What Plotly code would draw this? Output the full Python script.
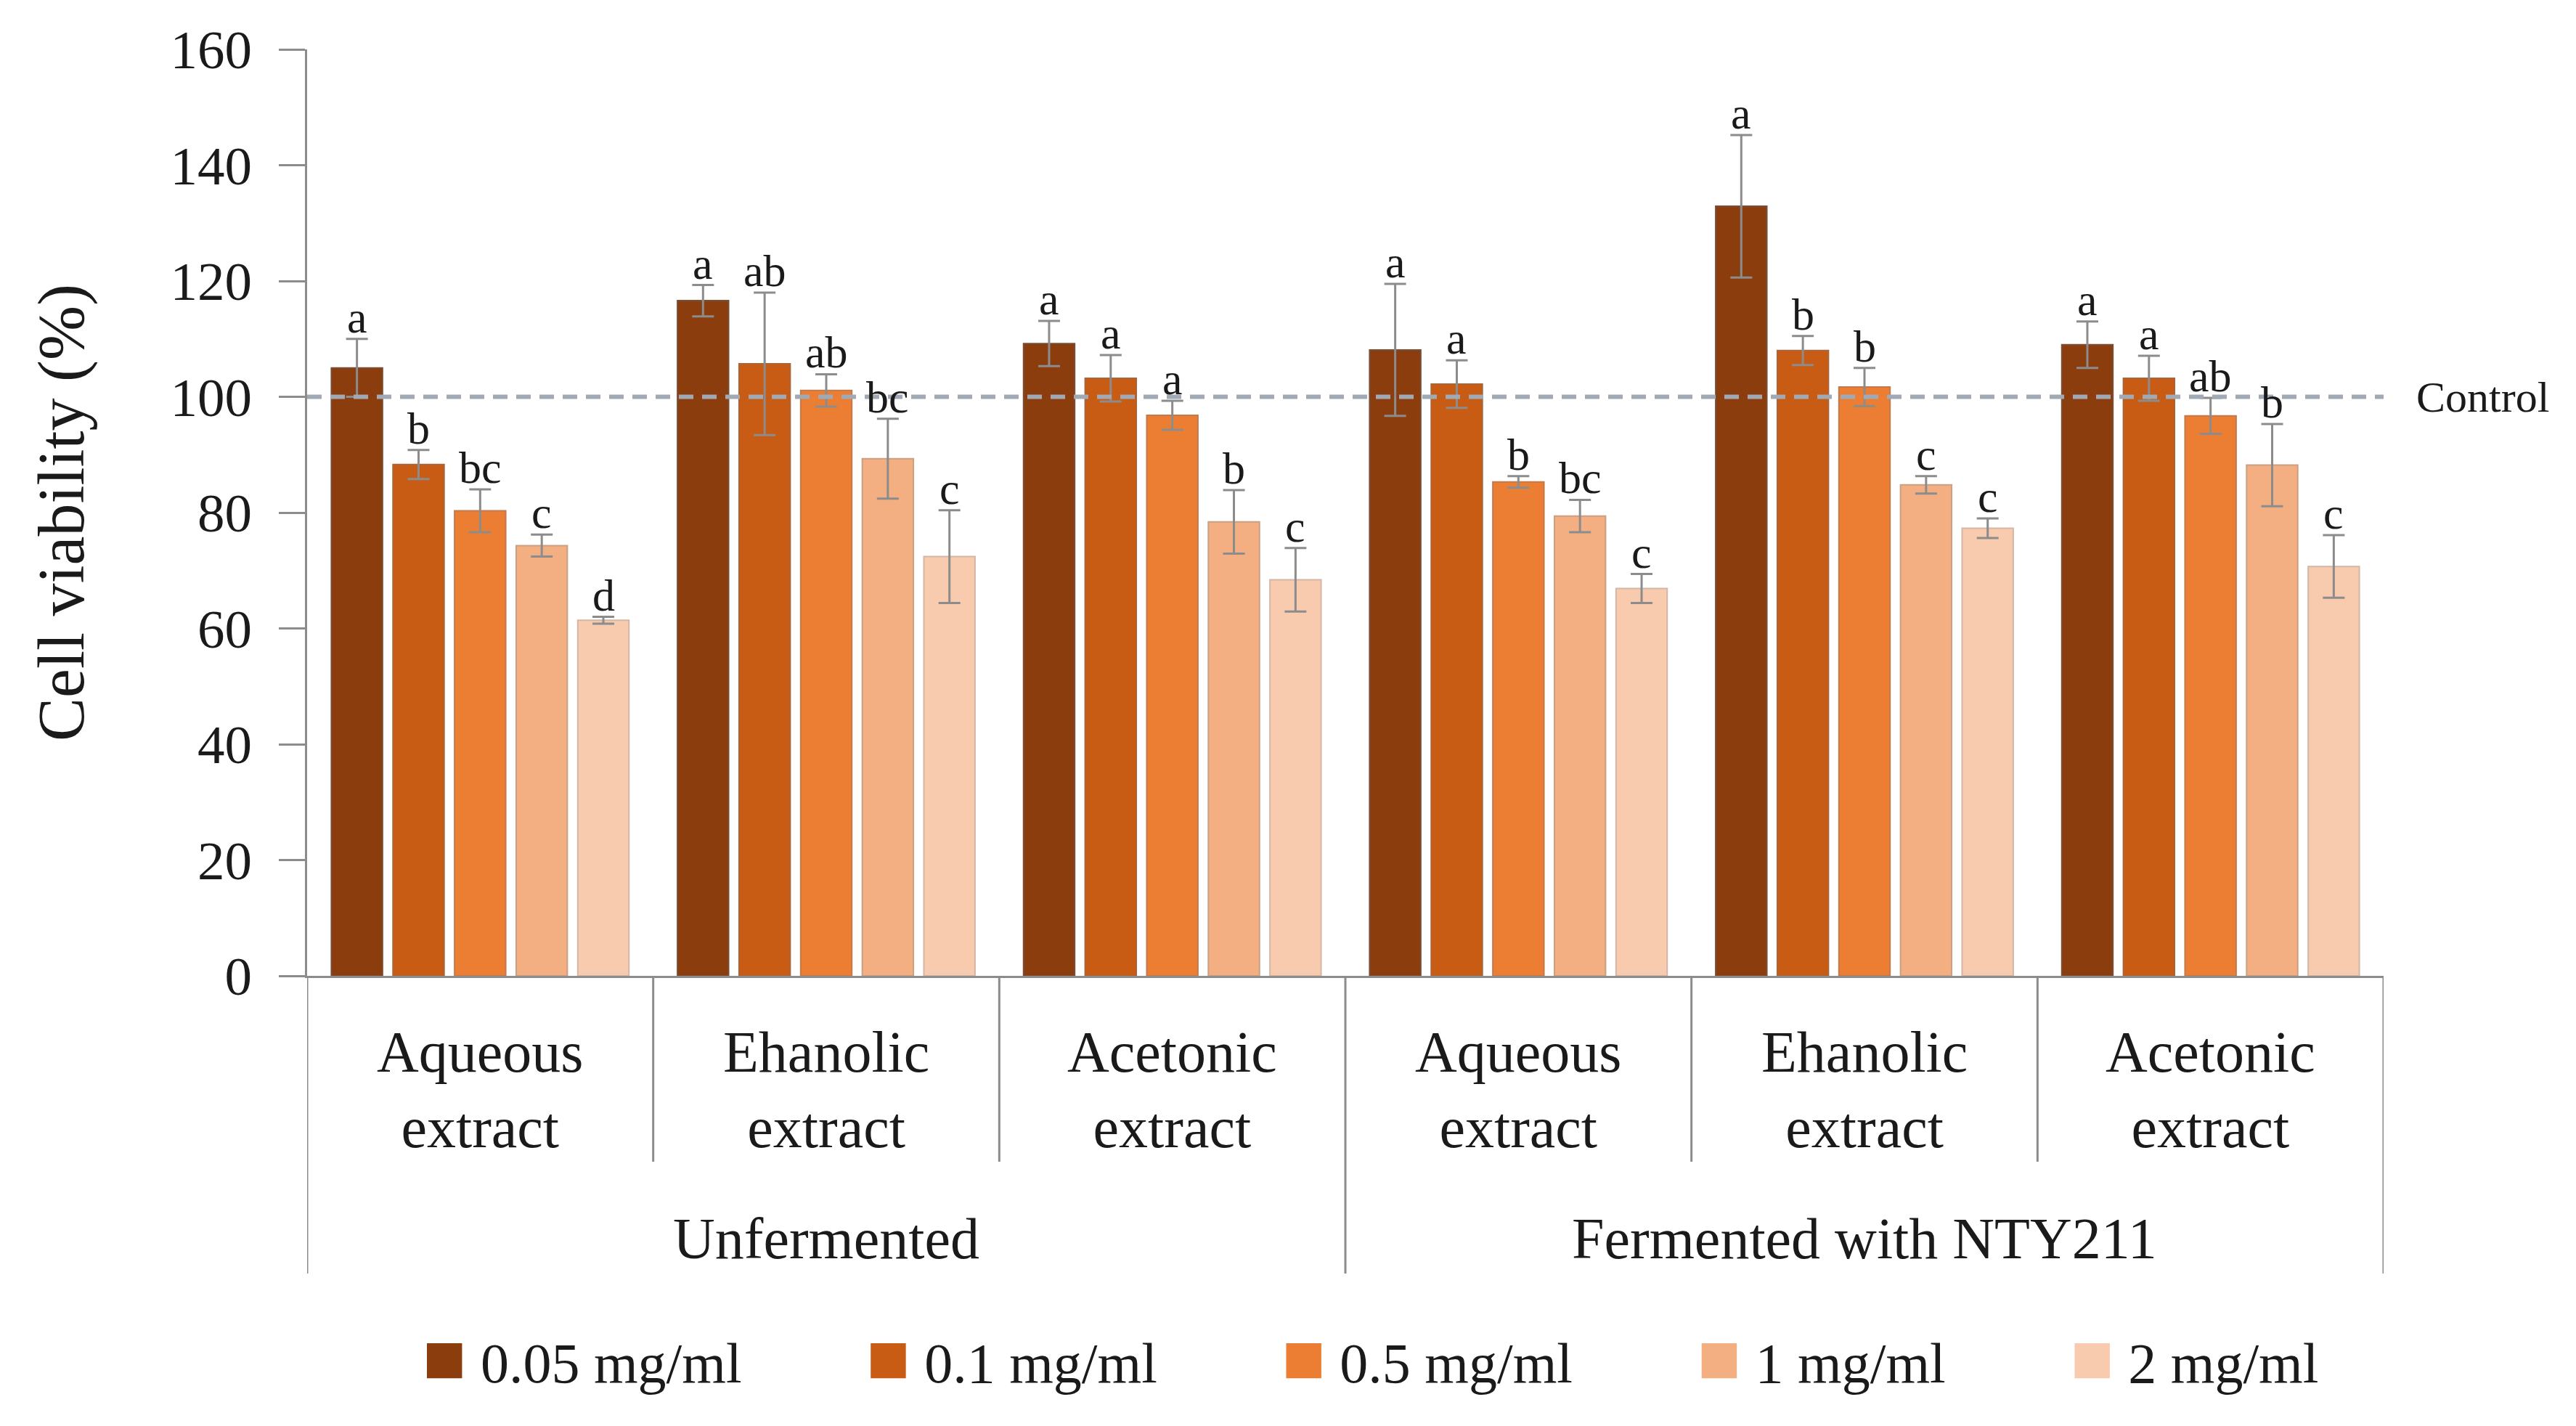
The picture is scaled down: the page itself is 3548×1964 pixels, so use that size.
import plotly.graph_objects as go

# ---------------- data ----------------
treatments = ["Unfermented", "Fermented with NTY211"]
extracts = ["Aqueous extract", "Ehanolic extract", "Acetonic extract"]
doses = ["0.05 mg/ml", "0.1 mg/ml", "0.5 mg/ml", "1 mg/ml", "2 mg/ml"]

v_005 = [105.0, 116.6, 109.2, 108.1, 132.9, 109.0]
v_01 = [88.3, 105.7, 103.2, 102.2, 108.0, 103.2]
v_05 = [80.3, 101.1, 96.8, 85.3, 101.7, 96.7]
v_1 = [74.3, 89.3, 78.4, 79.4, 84.8, 88.2]
v_2 = [61.4, 72.4, 68.4, 66.9, 77.3, 70.7]

e_005 = [5.0, 2.7, 3.9, 11.4, 12.3, 4.0]
e_01 = [2.5, 12.3, 4.0, 4.1, 2.5, 3.9]
e_05 = [3.7, 2.8, 2.5, 1.0, 3.3, 3.1]
e_1 = [1.9, 6.9, 5.5, 2.8, 1.5, 7.1]
e_2 = [0.6, 8.0, 5.5, 2.5, 1.7, 5.4]

l_005 = ["a", "a", "a", "a", "a", "a"]
l_01 = ["b", "ab", "a", "a", "b", "a"]
l_05 = ["bc", "ab", "a", "b", "b", "ab"]
l_1 = ["c", "bc", "b", "bc", "c", "b"]
l_2 = ["d", "c", "c", "c", "c", "c"]

control_value = 100
y_ticks = [0, 20, 40, 60, 80, 100, 120, 140, 160]

values = [v_005, v_01, v_05, v_1, v_2]
errors = [e_005, e_01, e_05, e_1, e_2]
letters = [l_005, l_01, l_05, l_1, l_2]

# ---------------- style ----------------
colors = ["#8B3D0E", "#C85C14", "#EC7E34", "#F3AF81", "#F8CAAE"]
edge_colors = ["#7A4E36", "#A8653A", "#C27A4C", "#C9A083", "#D4B6A6"]
FONT = "Liberation Serif"
W, H = 3532, 1948          # page body has an 8px margin
ML, MR, MT, MB = 415, 257, 60, 612
PH = H - MT - MB
AXIS_ROW = 8 + H - MB      # absolute pixel row of the x axis
BARGAP = 0.11
BARGROUPGAP = 0.17
axis_grey = "#8C8C8C"

def py(px_from_top):
    """convert an absolute pixel row to paper y coordinate"""
    return (AXIS_ROW - px_from_top) / PH

# category keys (one per extract/treatment combination)
keys = [f"{t} | {e}" for t in treatments for e in extracts]
ext_labels = [e for t in treatments for e in extracts]

fig = go.Figure()
for j, d in enumerate(doses):
    fig.add_trace(go.Bar(
        name=d, x=keys, y=values[j],
        marker=dict(color=colors[j], line=dict(color=edge_colors[j], width=2)),
        error_y=dict(type="data", array=errors[j], visible=True,
                     color=axis_grey, thickness=3, width=15),
        showlegend=False,
    ))

annotations = []
shapes = []

# significance letters
slot = (1 - BARGAP) / len(doses)
for j in range(len(doses)):
    off = (j - (len(doses) - 1) / 2) * slot
    for i in range(len(keys)):
        annotations.append(dict(
            x=i + off, y=values[j][i] + errors[j][i], xref="x", yref="y",
            text=letters[j][i], showarrow=False, yanchor="bottom",
            yshift=-6, font=dict(family=FONT, size=62, color="#1a1a1a")))

# inner category labels
for i, lab in enumerate(ext_labels):
    annotations.append(dict(
        x=i, y=py(1501), xref="x", yref="paper", yanchor="middle",
        text=lab.replace(" ", "<br>"), showarrow=False,
        font=dict(family=FONT, size=80, color="#1a1a1a")))

# outer category labels
n_ext = len(extracts)
for k, t in enumerate(treatments):
    annotations.append(dict(
        x=k * n_ext + (n_ext - 1) / 2, y=py(1706), xref="x", yref="paper",
        yanchor="middle", text=t, showarrow=False,
        font=dict(family=FONT, size=80, color="#1a1a1a")))

# dividers
for b in range(len(keys) + 1):
    outer = (b % n_ext == 0)
    shapes.append(dict(
        type="line", xref="x", yref="paper", x0=b - 0.5, x1=b - 0.5,
        y0=0, y1=py(1754) if outer else py(1600),
        line=dict(color=axis_grey, width=3)))

# control line
shapes.append(dict(
    type="line", xref="paper", yref="y", x0=0, x1=1,
    y0=control_value, y1=control_value,
    line=dict(color="#A0A9B4", width=6, dash="20px,12px"), layer="above"))
annotations.append(dict(
    x=1.015, y=control_value, xref="paper", yref="y", xanchor="left",
    yanchor="middle", text="Control", showarrow=False,
    font=dict(family=FONT, size=60, color="#1a1a1a")))

# custom legend (large colour squares)
gap = "&nbsp;" * 8 + "&#8201;"
legend_text = gap.join(
    f'<span style="color:{c};font-size:100px">■</span> {d}'
    for c, d in zip(colors, doses))
annotations.append(dict(
    x=0.512, y=py(1870), xref="paper", yref="paper",
    xanchor="center", yanchor="middle",
    text=legend_text, showarrow=False,
    font=dict(family=FONT, size=78, color="#1a1a1a")))

fig.update_layout(
    width=W, height=H,
    margin=dict(l=ML, r=MR, t=MT, b=MB, autoexpand=False),
    paper_bgcolor="white", plot_bgcolor="white",
    barmode="group", bargap=BARGAP, bargroupgap=BARGROUPGAP,
    font=dict(family=FONT, color="#1a1a1a"),
    annotations=annotations, shapes=shapes,
    xaxis=dict(
        type="category", categoryorder="array", categoryarray=keys,
        range=[-0.5, len(keys) - 0.5],
        showticklabels=False, ticks="", showgrid=False,
        showline=True, linecolor=axis_grey, linewidth=3, zeroline=False,
    ),
    yaxis=dict(
        range=[0, 160], tickvals=y_ticks, ticks="outside", ticklen=36,
        tickwidth=3, tickcolor=axis_grey, ticklabelstandoff=22,
        showgrid=False, zeroline=False,
        showline=True, linecolor=axis_grey, linewidth=3,
        tickfont=dict(family=FONT, size=75, color="#1a1a1a"),
        title=dict(text="Cell viability (%)", standoff=90,
                   font=dict(family=FONT, size=90, color="#1a1a1a")),
    ),
)

fig.write_html("out.html")
